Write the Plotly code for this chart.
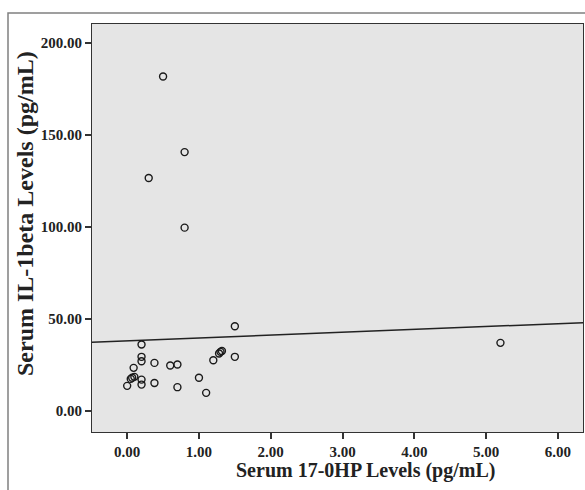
import plotly.graph_objects as go

# Serum 17-OHP vs IL-1beta
ohp_levels = [0.50, 0.80, 0.30, 0.80, 1.50, 0.20, 0.20, 0.20, 0.38, 0.60,
              0.70, 0.09, 0.07, 0.10, 0.05, 0.20, 0.20, 0.00, 0.38, 0.70,
              1.00, 1.10, 1.20, 1.28, 1.30, 1.32, 1.50, 5.20]
il1b_levels = [181.7, 140.6, 126.5, 99.5, 45.8, 35.9, 29.2, 26.8, 25.9, 24.5,
               25.0, 23.2, 17.8, 18.3, 17.2, 16.8, 14.1, 13.4, 15.0, 12.7,
               17.8, 9.6, 27.3, 31.0, 31.9, 32.4, 29.2, 36.8]

# fit line as drawn in the picture
fit_intercept = 37.9
fit_slope = 1.56

x_range = [-0.49, 6.35]
y_range = [-11.7, 210.3]
x_ticks = [0, 1, 2, 3, 4, 5, 6]
y_ticks = [0, 50, 100, 150, 200]

serif = "Liberation Serif, Times New Roman, serif"

fig = go.Figure()
fig.add_trace(go.Scatter(
    x=x_range,
    y=[fit_intercept + fit_slope * v for v in x_range],
    mode="lines",
    line=dict(color="#222222", width=1.5),
    hoverinfo="skip"
))
fig.add_trace(go.Scatter(
    x=ohp_levels,
    y=il1b_levels,
    mode="markers",
    marker=dict(symbol="circle-open", size=7, color="#1a1a1a",
                line=dict(width=1.4, color="#1a1a1a"))
))

axis_common = dict(
    showline=True, mirror=True, linecolor="#333333", linewidth=1,
    ticks="outside", ticklen=6, tickcolor="#333333", tickwidth=1.5,
    showgrid=False, zeroline=False, tickformat=".2f",
    tickfont=dict(family=serif, size=15, color="#222222", weight="bold"),
)

fig.update_layout(
    width=585, height=490,
    margin=dict(l=92, r=2, t=24, b=58),
    paper_bgcolor="white",
    plot_bgcolor="#e5e5e5",
    showlegend=False,
    xaxis=dict(range=x_range, tickvals=x_ticks, **axis_common),
    yaxis=dict(range=y_range, tickvals=y_ticks, **axis_common),
    annotations=[
        dict(text="<b>Serum 17-0HP Levels (pg/mL)</b>", xref="paper", yref="paper",
             x=(365 - 92) / 491, y=(432 - 470) / 408, xanchor="center", yanchor="middle",
             showarrow=False, font=dict(family=serif, size=20, color="#222222")),
        dict(text="<b>Serum IL-1beta Levels (pg/mL)</b>", xref="paper", yref="paper",
             x=(25 - 92) / 491, y=(432 - 214) / 408, xanchor="center", yanchor="middle",
             textangle=-90, showarrow=False,
             font=dict(family=serif, size=24, color="#222222")),
    ],
    shapes=[
        dict(type="rect", xref="paper", yref="paper",
             x0=(8 - 92) / 491, x1=1.05, y0=-0.2, y1=1 + 11 / 408,
             line=dict(color="#808080", width=1.5), layer="below"),
    ],
)

fig.write_html("out.html", config={"displayModeBar": False},
               post_script="document.body.style.margin='0';document.body.style.overflow='hidden';")
